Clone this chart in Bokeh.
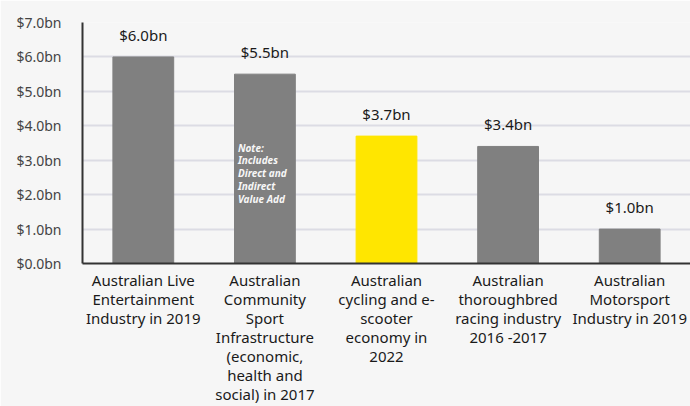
from bokeh.plotting import figure
from bokeh.models import ColumnDataSource, FixedTicker, PrintfTickFormatter
from bokeh.core.properties import value
from bokeh.embed import file_html
from bokeh.resources import INLINE

# ---- data ----
categories = [
    "Australian Live\nEntertainment\nIndustry in 2019",
    "Australian\nCommunity\nSport\nInfrastructure\n(economic,\nhealth and\nsocial) in 2017",
    "Australian\ncycling and e-\nscooter\neconomy in\n2022",
    "Australian\nthoroughbred\nracing industry\n2016 -2017",
    "Australian\nMotorsport\nIndustry in 2019",
]
values = [6.0, 5.5, 3.7, 3.4, 1.0]
value_labels = ["$6.0bn", "$5.5bn", "$3.7bn", "$3.4bn", "$1.0bn"]
colors = ["#808080", "#808080", "#FFE600", "#808080", "#808080"]
y_ticks = [0, 1, 2, 3, 4, 5, 6, 7]
note_category = categories[1]
note_text = "Note:\nIncludes\nDirect and\nIndirect\nValue Add"

FONT = "Noto Sans"
BG = "#f6f6f6"

src = ColumnDataSource(dict(x=categories, top=values, lab=value_labels, color=colors))

p = figure(
    x_range=categories, y_range=(0, 7.0),
    width=690, height=406,
    output_backend="svg", toolbar_location=None,
    min_border_left=82, min_border_right=0, min_border_top=22, min_border_bottom=142,
)
p.background_fill_color = BG
p.border_fill_color = BG
p.outline_line_color = None

p.vbar(x="x", top="top", width=0.5, color="color", source=src)

p.text(x="x", y="top", text="lab", source=src, text_align="center",
       text_baseline="bottom", y_offset=-12, text_font=value(FONT),
       text_font_size="15px", text_color="#1a1a1a")

p.text(x=[note_category], y=[3.57], text=[note_text], text_align="left",
       text_baseline="top", x_offset=-27, text_font=value(FONT),
       text_font_size="10px", text_font_style="bold italic",
       text_color="#f7f7f7", text_line_height=0.92)

# axes
p.yaxis.ticker = FixedTicker(ticks=y_ticks)
p.yaxis.formatter = PrintfTickFormatter(format="$%.1fbn")
p.yaxis.major_label_text_font = FONT
p.yaxis.major_label_text_font_size = "14px"
p.yaxis.major_label_text_color = "#444444"
p.yaxis.major_tick_line_color = None
p.yaxis.minor_tick_line_color = None
p.yaxis.major_label_standoff = 15
p.yaxis.axis_line_color = "#333333"
p.yaxis.axis_line_width = 2

p.xaxis.major_label_text_font = FONT
p.xaxis.major_label_text_font_size = "15px"
p.xaxis.major_label_text_color = "#1a1a1a"
p.xaxis.major_label_text_line_height = 0.95
p.xaxis.major_tick_line_color = None
p.xaxis.major_label_standoff = 0
p.xaxis.axis_line_color = "#333333"
p.xaxis.axis_line_width = 2

p.xgrid.grid_line_color = None
p.ygrid.grid_line_color = "#dcdce4"
p.ygrid.grid_line_width = 2

open("out.html", "w").write(file_html(p, INLINE))
